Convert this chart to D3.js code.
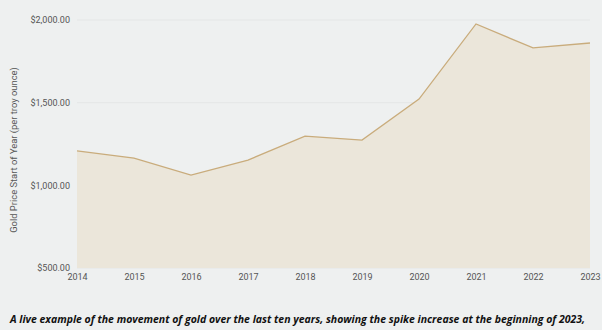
<!DOCTYPE html>
<html>
<head>
<meta charset="utf-8">
<script src="https://cdn.jsdelivr.net/npm/d3@7"></script>
<style>
  body { margin: 0; background: #eef0f0; }
  svg { display: block; }
</style>
</head>
<body>
<div id="chart"></div>
<script>
// Data
const years = ["2014", "2015", "2016", "2017", "2018", "2019", "2020", "2021", "2022", "2023"];
const prices = [1208, 1165, 1062, 1153, 1298, 1274, 1522, 1976, 1831, 1861];
const yTicks = [500, 1000, 1500, 2000];

const data = years.map((y, i) => ({ year: y, price: prices[i] }));

const svg = d3.select("#chart").append("svg")
    .attr("width", 602)
    .attr("height", 330);

const x = d3.scalePoint()
    .domain(years)
    .range([77, 590]);

const y = d3.scaleLinear()
    .domain([500, 2000])
    .range([268, 20]);

// faint gridlines
svg.append("g")
    .selectAll("line")
    .data(yTicks)
    .enter().append("line")
    .attr("x1", 77)
    .attr("x2", 590)
    .attr("y1", d => y(d))
    .attr("y2", d => y(d))
    .attr("stroke", "#e4e6e6")
    .attr("stroke-width", 1);

// area under the line
const area = d3.area()
    .x(d => x(d.year))
    .y0(y(500))
    .y1(d => y(d.price));

svg.append("path")
    .datum(data)
    .attr("d", area)
    .attr("fill", "#ebe6da");

const line = d3.line()
    .x(d => x(d.year))
    .y(d => y(d.price));

svg.append("path")
    .datum(data)
    .attr("d", line)
    .attr("fill", "none")
    .attr("stroke", "#c9ac7c")
    .attr("stroke-width", 1.3);

// y axis labels
const yAxis = svg.append("g")
    .attr("transform", "translate(70,0)")
    .call(d3.axisLeft(y).tickValues(yTicks).tickSize(0).tickPadding(0)
        .tickFormat(d => "$" + d3.format(",.2f")(d)));
yAxis.select(".domain").remove();
yAxis.selectAll("text")
    .attr("fill", "#555")
    .style("font-family", "Roboto, sans-serif")
    .style("font-size", "9px");

// x axis labels
const xAxis = svg.append("g")
    .attr("transform", "translate(0,273)")
    .call(d3.axisBottom(x).tickSize(0).tickPadding(1));
xAxis.select(".domain").remove();
xAxis.selectAll("text")
    .attr("fill", "#555")
    .style("font-family", "Roboto, sans-serif")
    .style("font-size", "9px");

// y axis title
svg.append("text")
    .attr("transform", "translate(17,150) rotate(-90)")
    .attr("text-anchor", "middle")
    .attr("fill", "#555")
    .style("font-family", "Roboto, sans-serif")
    .style("font-size", "9.4px")
    .text("Gold Price Start of Year (per troy ounce)");

// caption
svg.append("text")
    .attr("x", 10)
    .attr("y", 323)
    .attr("fill", "#111")
    .style("font-family", "'Open Sans', sans-serif")
    .style("font-weight", "bold")
    .style("font-style", "italic")
    .style("font-size", "10.5px")
    .text("A live example of the movement of gold over the last ten years, showing the spike increase at the beginning of 2023,");
</script>
</body>
</html>
